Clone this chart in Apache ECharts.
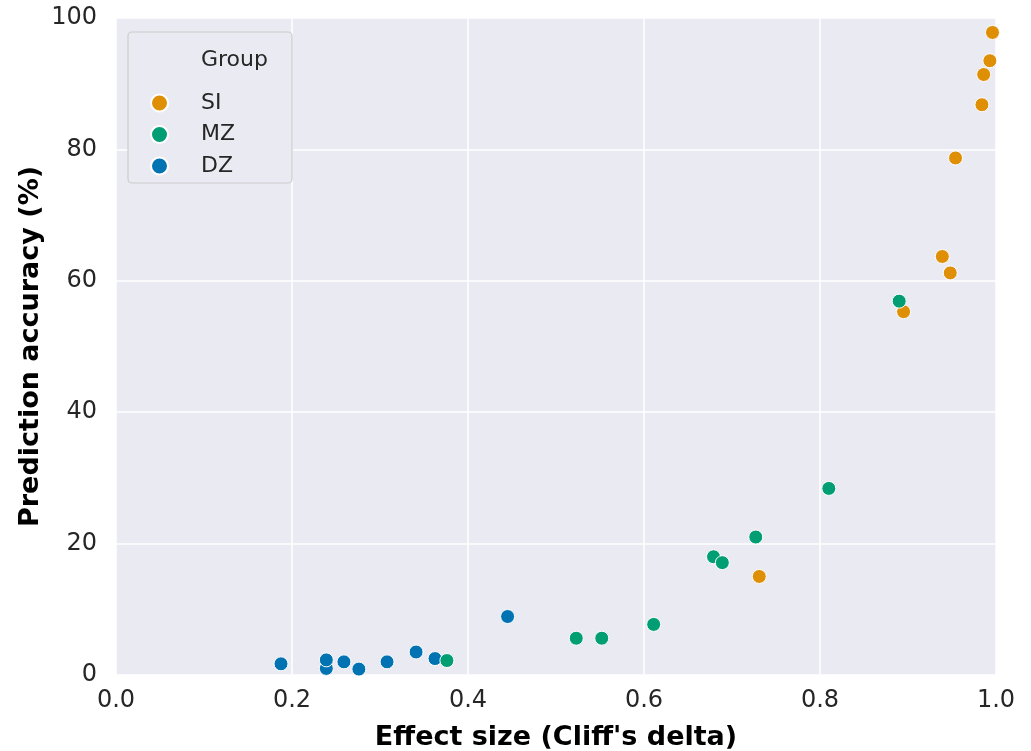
<!DOCTYPE html>
<html>
<head>
<meta charset="utf-8">
<script src="https://cdn.jsdelivr.net/npm/echarts@6/dist/echarts.min.js"></script>
<style>
  html, body { margin: 0; padding: 0; background: #fff; }
  #chart { width: 1031px; height: 751px; }
</style>
</head>
<body>
<div id="chart"></div>
<script>
// effect size (x) vs prediction accuracy (y), per group
const siX = [0.996, 0.993, 0.986, 0.984, 0.954, 0.939, 0.948, 0.895, 0.731];
const siY = [97.8, 93.5, 91.4, 86.8, 78.7, 63.7, 61.2, 55.3, 15.0];
const mzX = [0.890, 0.810, 0.727, 0.679, 0.689, 0.611, 0.523, 0.552, 0.376];
const mzY = [56.9, 28.4, 21.0, 18.0, 17.1, 7.7, 5.6, 5.6, 2.2];
const dzX = [0.1875, 0.239, 0.239, 0.259, 0.276, 0.308, 0.341, 0.3625, 0.445];
const dzY = [1.7, 1.0, 2.3, 2.0, 0.9, 2.0, 3.5, 2.5, 8.9];
const groups = ['SI', 'MZ', 'DZ'];
const xTicks = [0, 0.2, 0.4, 0.6, 0.8, 1.0];
const yTicks = [0, 20, 40, 60, 80, 100];

const colors = { SI: '#de8f05', MZ: '#029e73', DZ: '#0173b2' };
const font = 'DejaVu Sans';

function pairs(xs, ys) {
    return xs.map(function (x, i) { return [x, ys[i]]; });
}

const chart = echarts.init(document.getElementById('chart'));

function scatter(name, data) {
    return {
        name: name,
        type: 'scatter',
        data: data,
        symbolSize: 14,
        itemStyle: { color: colors[name], borderColor: '#ffffff', borderWidth: 1, opacity: 1 },
        emphasis: { disabled: true }
    };
}

chart.setOption({
    animation: false,
    textStyle: { fontFamily: font },
    grid: {
        left: 116, right: 35, top: 18, bottom: 76,
        outerBoundsMode: 'none', containLabel: false,
        show: true, backgroundColor: '#eaeaf2', borderWidth: 0
    },
    xAxis: {
        type: 'value',
        min: xTicks[0], max: xTicks[xTicks.length - 1], interval: 0.2,
        name: "Effect size (Cliff's delta)",
        nameLocation: 'middle', nameGap: 49,
        nameTextStyle: { fontFamily: font, fontWeight: 'bold', fontSize: 27, color: '#000' },
        axisLine: { show: false }, axisTick: { show: false },
        axisLabel: {
            fontFamily: font, fontSize: 24, color: '#262626', margin: 14,
            formatter: function (v) { return v.toFixed(1); }
        },
        splitLine: { lineStyle: { color: '#ffffff', width: 1.5 } }
    },
    yAxis: {
        type: 'value',
        min: yTicks[0], max: yTicks[yTicks.length - 1], interval: 20,
        name: 'Prediction accuracy (%)',
        nameLocation: 'middle', nameGap: 72, nameMoveOverlap: false,
        nameTextStyle: { fontFamily: font, fontWeight: 'bold', fontSize: 27, color: '#000' },
        axisLine: { show: false }, axisTick: { show: false },
        axisLabel: { fontFamily: font, fontSize: 24, color: '#262626', margin: 19 },
        splitLine: { lineStyle: { color: '#ffffff', width: 1.5 } }
    },
    graphic: [
        {
            type: 'rect', z: 3,
            shape: { x: 128, y: 32, width: 164, height: 151, r: 4 },
            style: { fill: '#eaeaf2', stroke: '#cccccc', lineWidth: 1.2 }
        },
        {
            type: 'text', z: 5, left: 201, top: 49,
            style: { text: 'Group', font: '22px "DejaVu Sans"', fill: '#262626' }
        }
    ],
    legend: {
        data: groups,
        orient: 'vertical',
        left: 150, top: 92,
        padding: 0,
        itemWidth: 17, itemHeight: 17, itemGap: 9.5,
        icon: 'circle',
        textStyle: {
            fontFamily: font, fontSize: 22, color: '#262626',
            lineHeight: 17, padding: [0, 0, 0, 28]
        },
        selectedMode: false,
        z: 6
    },
    series: [
        scatter('SI', pairs(siX, siY)),
        scatter('DZ', pairs(dzX, dzY)),
        scatter('MZ', pairs(mzX, mzY))
    ]
});
</script>
</body>
</html>
